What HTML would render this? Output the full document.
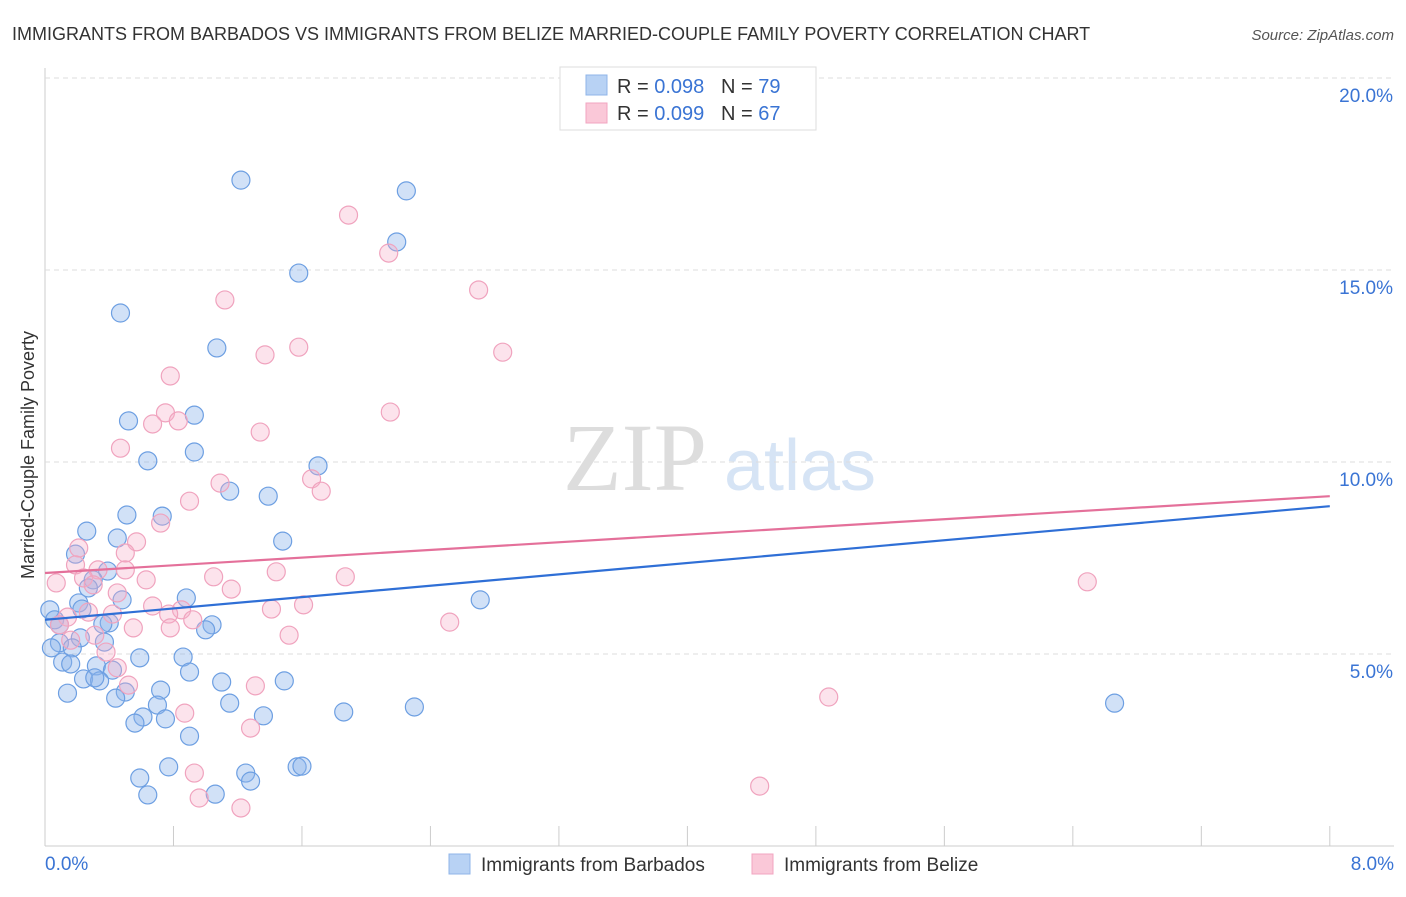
<!DOCTYPE html>
<html><head><meta charset="utf-8"><style>
body{margin:0;background:#fff;font-family:"Liberation Sans",sans-serif}
</style></head><body>
<svg id="c" width="1406" height="892" xmlns="http://www.w3.org/2000/svg">
<text x="12" y="40" font-size="18" fill="#333">IMMIGRANTS FROM BARBADOS VS IMMIGRANTS FROM BELIZE MARRIED-COUPLE FAMILY POVERTY CORRELATION CHART</text>
<text x="1394" y="40" font-size="15" fill="#555" font-style="italic" text-anchor="end">Source: ZipAtlas.com</text>
<text x="635" y="490" font-size="96" fill="#ddd" font-family="Liberation Serif" text-anchor="middle">ZIP</text>
<text x="800" y="490" font-size="72" fill="#d6e4f5" text-anchor="middle">atlas</text>
<text x="34" y="455" font-size="18" fill="#333" text-anchor="middle" transform="rotate(-90 34 455)">Married-Couple Family Poverty</text>
<g id="grid"></g><g id="pts"></g><g id="lines"></g>
<g>
<rect x="560" y="67" width="256" height="63" fill="#fff" stroke="#ddd"/>
<rect x="586" y="75" width="21" height="20" fill="#b8d2f4" stroke="#8fb4e8"/>
<rect x="586" y="103" width="21" height="20" fill="#fac8d8" stroke="#f2a5c0"/>
<text x="617" y="93" font-size="20" fill="#333">R = <tspan fill="#3a74d4">0.098</tspan>&#160;&#160;&#160;N = <tspan fill="#3a74d4">79</tspan></text>
<text x="617" y="120" font-size="20" fill="#333">R = <tspan fill="#3a74d4">0.099</tspan>&#160;&#160;&#160;N = <tspan fill="#3a74d4">67</tspan></text>
</g>
<g>
<rect x="449" y="854" width="21" height="20" fill="#b8d2f4" stroke="#8fb4e8"/>
<text x="481" y="871" font-size="19" fill="#333">Immigrants from Barbados</text>
<rect x="752" y="854" width="21" height="20" fill="#fac8d8" stroke="#f2a5c0"/>
<text x="784" y="871" font-size="19" fill="#333">Immigrants from Belize</text>
</g>
</svg>
<script>
const yTicks=[5,10,15,20];
const yTickLabels=["5.0%","10.0%","15.0%","20.0%"];
const xTickLabels=["0.0%","8.0%"];
const blueX=[1.22,2.25,2.19,1.58,0.47,1.07,0.93,0.52,0.93,0.64,1.70,1.15,1.39,0.51,0.73,0.26,0.45,1.48,0.19,0.39,0.30,0.27,0.48,0.88,2.71,0.21,0.23,0.03,0.06,0.09,0.40,0.36,1.04,1.00,0.22,0.37,0.09,0.17,0.04,0.59,0.86,0.11,0.16,0.32,0.90,0.42,0.24,0.34,0.31,1.49,1.10,0.50,0.14,0.44,0.72,1.15,0.70,2.30,1.86,1.36,0.61,0.75,0.56,0.90,6.66,0.59,0.77,1.25,1.28,1.57,1.60,0.64,1.06];
const blueY=[17.34,17.06,15.73,14.92,13.88,12.97,11.22,11.07,10.26,10.03,9.90,9.24,9.11,8.62,8.59,8.20,8.02,7.94,7.60,7.16,6.93,6.72,6.41,6.46,6.41,6.33,6.17,6.15,5.89,5.76,5.81,5.78,5.76,5.63,5.42,5.31,5.29,5.16,5.16,4.90,4.92,4.79,4.74,4.69,4.53,4.58,4.35,4.30,4.38,4.30,4.27,4.01,3.98,3.85,4.06,3.72,3.67,3.62,3.49,3.39,3.36,3.31,3.20,2.86,3.72,1.77,2.06,1.90,1.69,2.06,2.08,1.33,1.35];
const pinkX=[1.89,2.14,2.70,1.12,2.85,1.58,1.37,0.78,2.15,0.75,0.83,0.67,0.47,1.34,0.90,1.09,1.66,1.72,0.72,0.57,0.21,0.50,0.19,0.50,0.33,1.05,1.87,1.44,0.24,0.63,0.30,0.07,1.16,6.49,0.45,0.67,0.85,0.77,1.61,1.41,0.27,0.42,0.14,0.09,0.92,2.52,0.55,0.78,0.31,1.52,0.16,0.38,0.45,0.52,1.31,4.88,0.87,1.28,0.93,0.96,1.22,4.45];
const pinkY=[16.43,15.44,14.48,14.22,12.86,12.99,12.79,12.24,11.30,11.28,11.07,10.99,10.36,10.78,8.98,9.45,9.56,9.24,8.41,7.92,7.76,7.63,7.32,7.19,7.19,7.01,7.01,7.14,6.98,6.93,6.80,6.85,6.69,6.88,6.59,6.25,6.15,6.04,6.28,6.17,6.09,6.04,5.96,5.76,5.89,5.83,5.68,5.68,5.49,5.49,5.36,5.05,4.64,4.19,4.17,3.88,3.46,3.07,1.90,1.25,0.99,1.56];
const blueTrend=[5.89,8.85];
const pinkTrend=[7.11,9.11];
const NS="http://www.w3.org/2000/svg";
const X=v=>45+v*160.6, Y=v=>846-v*38.4;
function mk(t,a,p){const e=document.createElementNS(NS,t);for(const k in a)e.setAttribute(k,a[k]);p.appendChild(e);return e;}
const grid=document.getElementById('grid');
mk('line',{x1:45,y1:846,x2:1394,y2:846,stroke:'#ccc'},grid);
mk('line',{x1:45,y1:68,x2:45,y2:846,stroke:'#ccc'},grid);
yTicks.forEach((t,i)=>{
 const l=mk('line',{x1:45,y1:Y(t),x2:1394,y2:Y(t),stroke:'#ddd','stroke-dasharray':'5,4'},grid);
 
 
 const tx=mk('text',{x:1393,y:Y(t)+24,'font-size':19,fill:'#3a74d4','text-anchor':'end'},grid);
 tx.textContent=yTickLabels[i];
 
 
});
for(let i=0;i<=10;i++){
 const l=mk('line',{x1:X(i*0.8),y1:826,x2:X(i*0.8),y2:846,stroke:'#ccc'},grid);
 
 
}
[[0,'start',45],[8,'end',1394]].forEach((d,i)=>{
 const tx=mk('text',{x:d[2],y:870,'font-size':19,fill:'#3a74d4','text-anchor':d[1]},grid);
 tx.textContent=xTickLabels[i];
 
 
});
const pts=document.getElementById('pts');
function draw(xs,ys,fill,stroke,name){
 xs.forEach((x,i)=>{
  const c=mk('circle',{cx:X(x),cy:Y(ys[i]),r:9,fill:fill,stroke:stroke,'stroke-width':1.2},pts);
  
  
 });
}
draw(blueX,blueY,'rgba(140,180,235,0.4)','#6d9fe2','barbados-point');
draw(pinkX,pinkY,'rgba(246,175,200,0.35)','#f0a3be','belize-point');
const lines=document.getElementById('lines');
const bl=mk('line',{x1:X(0),y1:Y(blueTrend[0]),x2:X(8),y2:Y(blueTrend[1]),stroke:'#2f6fd6','stroke-width':2.2},lines);


const pl=mk('line',{x1:X(0),y1:Y(pinkTrend[0]),x2:X(8),y2:Y(pinkTrend[1]),stroke:'#e4709a','stroke-width':2.2},lines);


</script>
</body></html>
